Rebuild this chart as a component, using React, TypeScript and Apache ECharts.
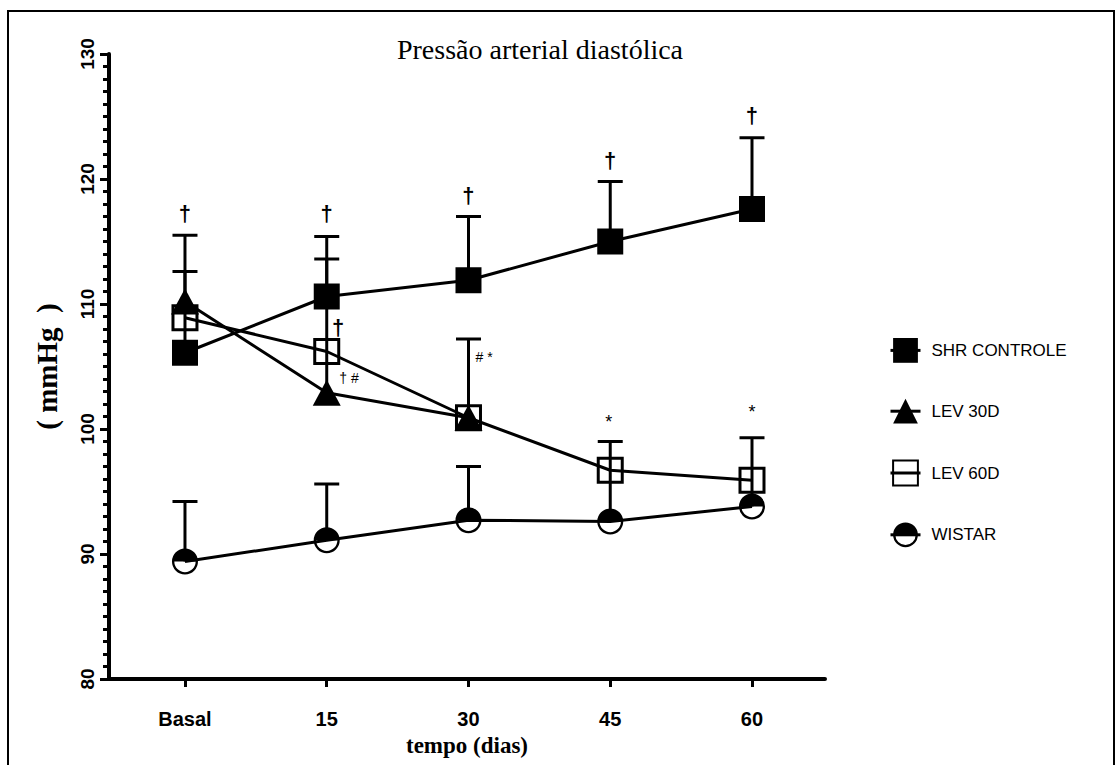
import React, { useEffect, useRef } from 'react';
import * as echarts from 'echarts';

// ---- data ----
const categories = ['Basal', '15', '30', '45', '60'];
const yTicks = [80, 90, 100, 110, 120, 130];

const shrControle = [106.1, 110.6, 111.9, 115.0, 117.6];
const shrControleUpper = [112.6, 113.6, 117.0, 119.8, 123.3];

const lev30d = [110.2, 102.9, 100.9, null, null];
const lev30dUpper = [115.5, 115.4, 107.2, null, null];

const lev60d = [108.9, 106.2, 100.9, 96.7, 95.9];
const lev60dUpper = [null, null, null, null, null];

const wistar = [89.4, 91.1, 92.7, 92.6, 93.8];
const wistarUpper = [94.2, 95.6, 97.0, 99.0, 99.3];

// significance marks: category position, value, text
const annotX = [0, 1, 2, 3, 4, 1.08, 1.157, 2.11, 2.99, 4];
const annotY = [117.28, 117.28, 118.72, 121.52, 125.12, 108.16, 104.08, 105.76, 100.56, 101.36];
const annotText = ['†', '†', '†', '†', '†', '†', '† #', '# *', '*', '*'];

const WISTAR_PATH =
  'path://M0,10A10,10,0,0,1,20,10Z M20,10A10,10,0,0,1,0,10L1.8,10A8.2,8.2,0,0,0,18.2,10Z';

const pts = (arr: (number | null)[]) =>
  arr.map((v, i) => (v == null ? null : [i, v])).filter((p) => p != null) as number[][];

const errPts = (vals: (number | null)[], ups: (number | null)[]) =>
  vals
    .map((v, i) => (v == null || ups[i] == null ? null : [i, v, ups[i] as number]))
    .filter((p) => p != null) as number[][];

const SANS = '"Liberation Sans", Arial, sans-serif';
const SERIF = '"Liberation Serif", "Times New Roman", serif';

const annotFontSize = (t: string) => (t === '†' ? 22 : t === '*' ? 18 : 14);

export default function App() {
  const ref = useRef<HTMLDivElement>(null);

  useEffect(() => {
    if (!ref.current) return;
    const chart = echarts.init(ref.current, undefined, { renderer: 'svg' });

    const errorData = [
      ...errPts(shrControle, shrControleUpper),
      ...errPts(lev30d, lev30dUpper),
      ...errPts(lev60d, lev60dUpper),
      ...errPts(wistar, wistarUpper),
    ];

    const lineStyle = { color: '#000', width: 3 };

    const option: any = {
      animation: false,
      backgroundColor: '#fff',
      title: {
        text: 'Pressão arterial diastólica',
        left: 535,
        top: 30,
        textAlign: 'center',
        textStyle: { fontFamily: SERIF, fontSize: 28, fontWeight: 'normal', color: '#000' },
      },
      legend: {
        orient: 'vertical',
        left: 884,
        top: 333,
        itemWidth: 30,
        itemHeight: 31,
        itemGap: 36,
        data: ['SHR CONTROLE', 'LEV 30D', 'LEV 60D', 'WISTAR'],
        lineStyle: { color: '#000', width: 3, opacity: 1 },
        textStyle: { fontFamily: SANS, fontSize: 17, color: '#000', padding: [0, 0, 0, 6] },
        selectedMode: false,
      },
      graphic: [
        {
          type: 'rect',
          shape: { x: 8, y: 11, width: 1106, height: 800 },
          style: { fill: 'none', stroke: '#000', lineWidth: 2 },
          silent: true,
        },
      ],
      grid: {
        left: 109,
        top: 54,
        width: 716,
        height: 625,
        containLabel: false,
        outerBoundsMode: 'none',
      },
      xAxis: {
        type: 'value',
        min: -0.536,
        max: 4.515,
        name: 'tempo (dias)',
        nameLocation: 'middle',
        nameGap: 53,
        nameTextStyle: { fontFamily: SERIF, fontSize: 23, fontWeight: 'bold', color: '#000' },
        axisLine: { show: true, onZero: false, lineStyle: { color: '#000', width: 4 } },
        axisTick: {
          show: true,
          customValues: [0, 1, 2, 3, 4],
          length: 8,
          inside: false,
          lineStyle: { color: '#000', width: 3 },
        },
        axisLabel: {
          customValues: [0, 1, 2, 3, 4],
          formatter: (v: number) => categories[Math.round(v)] ?? '',
          margin: 30,
          fontFamily: SANS,
          fontSize: 20,
          fontWeight: 'bold',
          color: '#000',
        },
        splitLine: { show: false },
      },
      yAxis: {
        type: 'value',
        min: yTicks[0],
        max: yTicks[yTicks.length - 1],
        interval: yTicks[1] - yTicks[0],
        name: '( mmHg  )',
        nameLocation: 'middle',
        nameGap: 48,
        nameRotate: 90,
        nameTextStyle: { fontFamily: SERIF, fontSize: 29, fontWeight: 'bold', color: '#000' },
        axisLine: { show: true, onZero: false, lineStyle: { color: '#000', width: 4 } },
        axisTick: { show: true, length: 9, inside: false, lineStyle: { color: '#000', width: 3 } },
        minorTick: { show: true, splitNumber: 10, length: 6, lineStyle: { color: '#000', width: 3 } },
        axisLabel: {
          rotate: 90,
          margin: 12,
          fontFamily: SANS,
          fontSize: 19,
          fontWeight: 'bold',
          color: '#000',
        },
        splitLine: { show: false },
        minorSplitLine: { show: false },
      },
      series: [
        {
          name: 'wistar-line',
          type: 'line',
          data: pts(wistar),
          symbol: 'none',
          lineStyle,
          silent: true,
        },
        {
          name: 'wistar-bg',
          type: 'scatter',
          data: pts(wistar),
          symbol: 'circle',
          symbolSize: 24,
          itemStyle: { color: '#fff' },
          silent: true,
        },
        {
          name: 'WISTAR',
          type: 'line',
          data: pts(wistar),
          symbol: WISTAR_PATH,
          symbolSize: 26,
          itemStyle: { color: '#000' },
          lineStyle: { color: '#000', width: 0 },
        },
        {
          name: 'LEV 30D',
          type: 'line',
          data: pts(lev30d),
          symbol: 'triangle',
          symbolSize: [28, 26],
          itemStyle: { color: '#000' },
          lineStyle,
        },
        {
          name: 'LEV 60D',
          type: 'line',
          data: pts(lev60d),
          symbol: 'rect',
          symbolSize: 24,
          itemStyle: { color: 'rgba(255,255,255,0)', borderColor: '#000', borderWidth: 3 },
          lineStyle,
        },
        {
          name: 'SHR CONTROLE',
          type: 'line',
          data: pts(shrControle),
          symbol: 'rect',
          symbolSize: 26,
          itemStyle: { color: '#000' },
          lineStyle,
        },
        {
          name: 'error-bars',
          type: 'custom',
          z: 3,
          data: errorData,
          encode: { x: 0, y: 1 },
          silent: true,
          renderItem: (params: any, api: any) => {
            const x = api.value(0);
            const y = api.value(1);
            const u = api.value(2);
            const p0 = api.coord([x, y]);
            const p1 = api.coord([x, u]);
            const style = { stroke: '#000', lineWidth: 3 };
            return {
              type: 'group',
              children: [
                { type: 'line', shape: { x1: p0[0], y1: p0[1], x2: p1[0], y2: p1[1] }, style },
                { type: 'line', shape: { x1: p1[0] - 12.5, y1: p1[1], x2: p1[0] + 12.5, y2: p1[1] }, style },
              ],
            };
          },
        },
        {
          name: 'annotations',
          type: 'scatter',
          z: 4,
          symbol: 'circle',
          symbolSize: 1,
          silent: true,
          itemStyle: { color: '#000', opacity: 0 },
          label: {
            show: true,
            position: 'inside',
            color: '#000',
            fontFamily: SANS,
          },
          data: annotX.map((x, i) => ({
            value: [x, annotY[i]],
            label: {
              show: true,
              position: 'inside',
              formatter: annotText[i],
              fontSize: annotFontSize(annotText[i]),
              fontWeight: annotText[i] === '†' ? 'bold' : 'normal',
              fontFamily: SANS,
              color: '#000',
              opacity: 1,
            },
          })),
        },
      ],
    };

    chart.setOption(option);
    return () => chart.dispose();
  }, []);

  return (
    <div
      ref={ref}
      style={{ position: 'fixed', left: 0, top: 0, width: 1115, height: 765, background: '#fff' }}
    />
  );
}
